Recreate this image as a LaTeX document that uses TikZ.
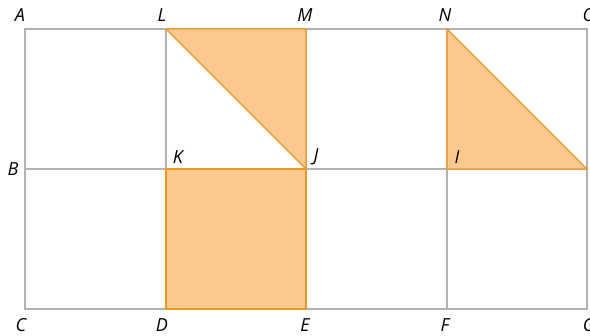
\documentclass[tikz,border=0pt]{standalone}
\usepackage{fontspec}
\setmainfont{Open Sans}
\definecolor{gridgrey}{RGB}{178,178,178}
\definecolor{orfill}{RGB}{251,201,142}
\definecolor{orline}{RGB}{240,150,40}
\begin{document}
\begin{tikzpicture}[x=1pt,y=-1pt,
  lab/.style={font=\fontsize{18}{21}\selectfont\itshape, inner sep=0pt},
  gridline/.style={draw=gridgrey, line width=1.4pt},
  shade/.style={fill=orfill, draw=orline, line width=1.3pt, line join=round}]
\useasboundingbox[clip] (0,0) rectangle (590,336);
% grid points
\coordinate (A) at (25,29);   \coordinate (L) at (166,29);
\coordinate (M) at (306,29);  \coordinate (N) at (447,29);
\coordinate (O) at (587,29);
\coordinate (B) at (25,169);  \coordinate (K) at (166,169);
\coordinate (J) at (306,169); \coordinate (I) at (447,169);
\coordinate (P) at (587,169);
\coordinate (C) at (25,309);  \coordinate (D) at (166,309);
\coordinate (E) at (306,309); \coordinate (F) at (447,309);
\coordinate (G) at (587,309);
% grid
\draw[gridline] (A) rectangle (G);
\draw[gridline] (B) -- (P);
\draw[gridline] (L) -- (D);
\draw[gridline] (M) -- (E);
\draw[gridline] (N) -- (F);
% shaded pieces
\draw[shade] (L) -- (M) -- (J) -- cycle;
\draw[shade] (K) -- (J) -- (E) -- (D) -- cycle;
\draw[shade] (N) -- (I) -- (P) -- cycle;
% labels
\node[lab] (lA) at (20,15) {A};
\node[lab] (lL) at (162,15) {L};
\node[lab] (lM) at (305,15) {M};
\node[lab] (lN) at (445,15) {N};
\node[lab] (lO) at (589,15) {O};
\node[lab] (lB) at (13,169) {B};
\node[lab] (lK) at (178,157) {K};
\node[lab] (lJ) at (316,157) {J};
\node[lab] (lI) at (457,157) {I};
\node[lab] (lC) at (21,325) {C};
\node[lab] (lD) at (162,325) {D};
\node[lab] (lE) at (305,325) {E};
\node[lab] (lF) at (445,325) {F};
\node[lab] (lG) at (589,325) {G};
\end{tikzpicture}
\end{document}
